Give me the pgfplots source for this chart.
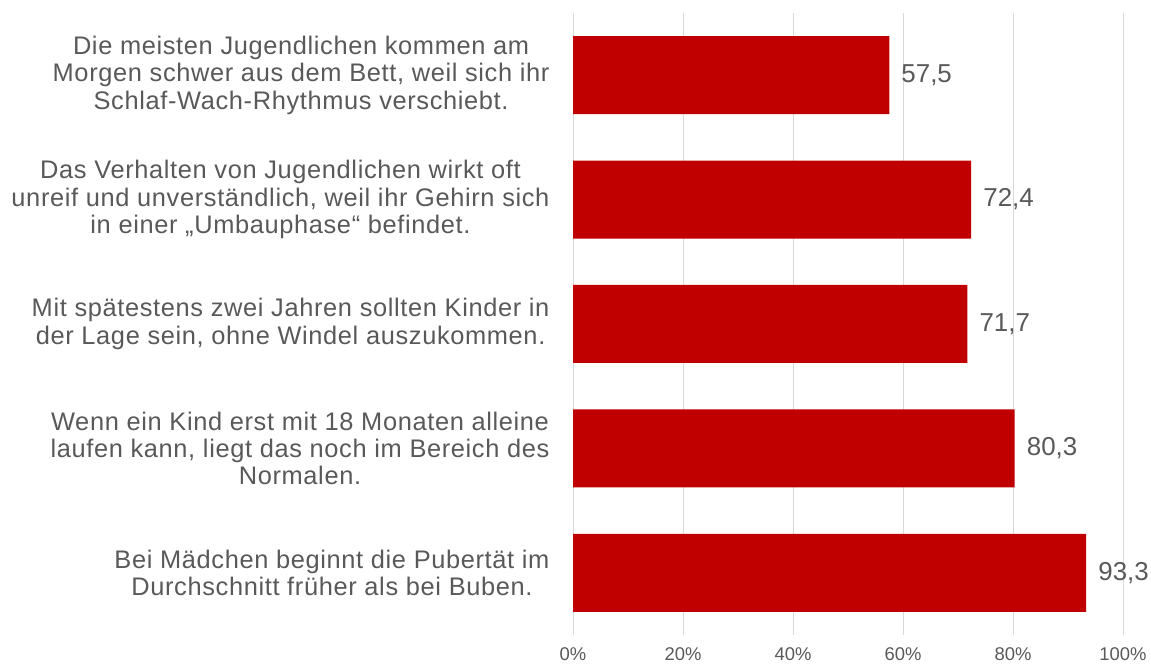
\documentclass[border=0pt]{standalone}
\usepackage{fontspec}
\setmainfont{Liberation Sans}
\usepackage{pgfplots}
\pgfplotsset{compat=1.18}
\definecolor{barred}{HTML}{C00000}
\definecolor{txtgray}{HTML}{595959}
\definecolor{gridgray}{HTML}{D9D9D9}

\begin{document}
\begin{tikzpicture}[x=1bp,y=1bp]
\useasboundingbox (0,0) rectangle (1151,665);
\begin{axis}[
  at={(573bp,30bp)}, anchor=south west,
  scale only axis,
  width=550bp, height=622bp,
  xbar,
  bar width=78bp,
  xmin=0, xmax=100,
  ymin=-0.5, ymax=4.5,
  xtick={0,20,40,60,80,100},
  xticklabel={\pgfmathprintnumber{\tick}\%},
  ytick={0,1,2,3,4},
  yticklabels={
    {Bei Mädchen beginnt die Pubertät im\\Durchschnitt früher als bei Buben.},
    {Wenn ein Kind erst mit 18 Monaten alleine\\laufen kann, liegt das noch im Bereich des\\Normalen.},
    {Mit spätestens zwei Jahren sollten Kinder in\\der Lage sein, ohne Windel auszukommen.},
    {Das Verhalten von Jugendlichen wirkt oft\\unreif und unverständlich, weil ihr Gehirn sich\\in einer „Umbauphase“ befindet.},
    {Die meisten Jugendlichen kommen am\\Morgen schwer aus dem Bett, weil sich ihr\\Schlaf-Wach-Rhythmus verschiebt.}
  },
  /pgf/number format/assume math mode=true,
  axis line style={draw=none},
  major tick length=0pt,
  xmajorgrids,
  grid style={gridgray, line width=1bp},
  xticklabel style={text=txtgray, font=\fontsize{18.5}{20}\selectfont, yshift=-9bp},
  yticklabel style={text=txtgray, align=center, font=\fontsize{25.5}{27.5}\selectfont\addfontfeature{LetterSpace=2.5}, xshift=-20bp},
  nodes near coords,
  nodes near coords style={text=txtgray, font=\fontsize{26}{28}\selectfont, anchor=west, inner sep=0pt, xshift=12bp,
    /pgf/number format/.cd, fixed, fixed zerofill, precision=1, use comma},
  clip=false,
]
\addplot[fill=barred, draw=none] coordinates {(93.3,0) (80.3,1) (71.7,2) (72.4,3) (57.5,4)};
\end{axis}
\end{tikzpicture}
\end{document}
